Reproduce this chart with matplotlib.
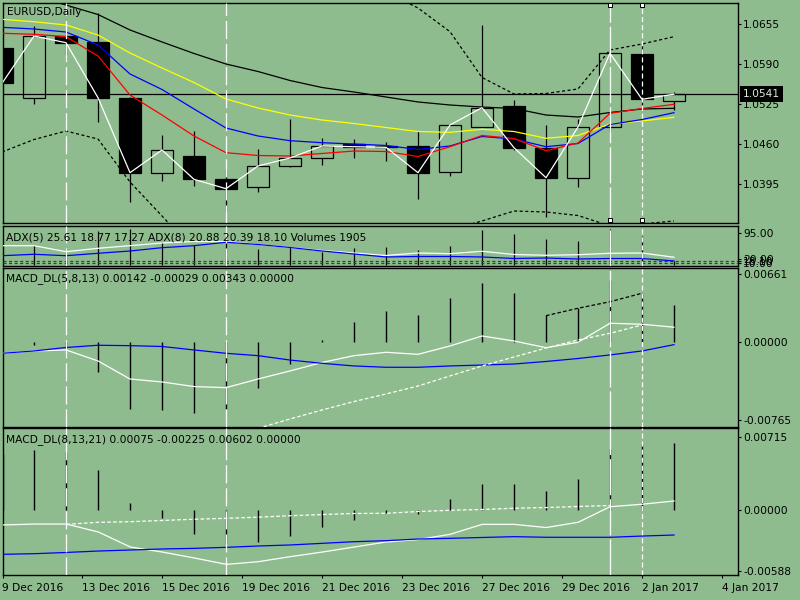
import numpy as np
import matplotlib
matplotlib.use('Agg')
import matplotlib.pyplot as plt
from matplotlib.patches import Rectangle
import matplotlib.transforms as mtransforms

plt.rcParams['font.family'] = ['DejaVu Sans']
plt.rcParams['lines.scale_dashes'] = False
plt.rcParams['font.size'] = 7.7

BG = '#8fbc8f'
DKGREEN = '#145a14'
W, H = 800, 600
PX_L, PX_R = 2.5, 738.0

# ---------------- data ----------------
bars = np.arange(22)
x_tick_pos = np.arange(10) * 2.5
x_labels = ['9 Dec 2016', '13 Dec 2016', '15 Dec 2016', '19 Dec 2016', '21 Dec 2016',
            '23 Dec 2016', '27 Dec 2016', '29 Dec 2016', '2 Jan 2017', '4 Jan 2017']

open_ = [1.06165, 1.05343, 1.06355, 1.06262, 1.05352, 1.04124, 1.04410, 1.04031, 1.03896, 1.04247, 1.04368,
         1.04605, 1.04572, 1.04568, 1.04150, 1.04881, 1.05218, 1.04540, 1.04052, 1.04881, 1.06063, 1.05299]
high = [1.06200, 1.06518, 1.06436, 1.06724, 1.05360, 1.04746, 1.04811, 1.04194, 1.04519, 1.05006, 1.04702,
        1.04681, 1.04637, 1.04811, 1.04910, 1.06534, 1.05315, 1.04909, 1.05006, 1.06080, 1.06236, 1.05450]
low = [1.05550, 1.05250, 1.06046, 1.04962, 1.03662, 1.03999, 1.03922, 1.03511, 1.03825, 1.04231, 1.04264,
       1.04377, 1.04329, 1.03706, 1.04085, 1.04870, 1.04503, 1.03409, 1.03896, 1.04800, 1.05234, 1.05153]
close = [1.05586, 1.06355, 1.06246, 1.05352, 1.04134, 1.04503, 1.04026, 1.03874, 1.04243, 1.04373, 1.04568,
         1.04556, 1.04546, 1.04134, 1.04909, 1.05190, 1.04540, 1.04052, 1.04876, 1.06074, 1.05326, 1.05410]
last_price = 1.0541

ma_black = [1.07135, 1.07005, 1.06859, 1.06704, 1.06453, 1.06258, 1.06071, 1.05900, 1.05778, 1.05632, 1.05518,
            1.05445, 1.05364, 1.05283, 1.05234, 1.05201, 1.05177, 1.05071, 1.05039, 1.05112, 1.05169, 1.05180]
ma_yellow = [1.06626, 1.06587, 1.06534, 1.06371, 1.06079, 1.05835, 1.05599, 1.05331, 1.05185, 1.05071, 1.04990,
             1.04933, 1.04868, 1.04803, 1.04790, 1.04839, 1.04803, 1.04693, 1.04738, 1.04925, 1.04974, 1.05034]
ma_blue = [1.06496, 1.06469, 1.06420, 1.06209, 1.05738, 1.05486, 1.05169, 1.04860, 1.04730, 1.04654, 1.04621,
           1.04600, 1.04576, 1.04511, 1.04568, 1.04722, 1.04681, 1.04556, 1.04608, 1.04917, 1.04998, 1.05109]
ma_red = [1.06399, 1.06383, 1.06344, 1.06030, 1.05396, 1.05071, 1.04730, 1.04459, 1.04413, 1.04405, 1.04446,
          1.04486, 1.04478, 1.04397, 1.04556, 1.04738, 1.04689, 1.04491, 1.04616, 1.05099, 1.05177, 1.05245]
band_up = [1.07428, 1.07460, 1.07509, 1.07590, 1.07671, 1.07720, 1.07753, 1.07753, 1.07720, 1.07623, 1.07460,
           1.07265, 1.07070, 1.06810, 1.06425, 1.05681, 1.05413, 1.05421, 1.05494, 1.06128, 1.06225, 1.06344]
band_dn = [1.04470, 1.04673, 1.04811, 1.04681, 1.03983, 1.03430, 1.02878, 1.02471, 1.02228, 1.02195, 1.02309,
           1.02553, 1.02796, 1.03008, 1.03203, 1.03349, 1.03511, 1.03495, 1.03438, 1.03268, 1.03300, 1.03349]
price_ticks = [1.0655, 1.0590, 1.0525, 1.0460, 1.0395]

adx5 = [58.3, 58.3, 41.3, 50.9, 58.3, 65.9, 70.1, 70.1, 61.7, 53.2, 44.7,
        37.7, 30.6, 37.7, 35.7, 42.5, 33.4, 31.2, 32.8, 36.8, 37.7, 25.6]
adx8 = [30.0, 34.0, 30.0, 36.8, 43.3, 52.6, 58.3, 67.9, 61.7, 53.2, 43.3,
        34.8, 26.4, 27.8, 27.8, 26.4, 22.1, 23.5, 20.7, 22.1, 22.1, 15.1]
volumes = [9000, 9670, 8000, 16330, 17380, 11190, 9670, 11430, 7900, 8710, 6330,
           8380, 8710, 7140, 9190, 16670, 14760, 12670, 11430, 17430, 13950, 1905]
adx_levels = [14.2, 8.55]
adx_ticks = [95, 20, 16, 10]
adx_tick_labels = ['95.00', '20.00', '18.10', '10.00']

nan = np.nan
hist1 = [0.0001, -0.0003, -0.00065, -0.00294, -0.00657, -0.0067, -0.00702, -0.0066, -0.00451, -0.00219, 0.0002,
         0.00196, 0.00301, 0.00262, 0.00432, 0.00573, 0.00475, 0.00262, 0.00328, 0.00605, 0.00475, 0.0036]
macd1_main = [-0.00114, -0.00091, -0.00081, -0.00189, -0.00366, -0.00395, -0.0044, -0.00451, -0.00366, -0.00287,
              -0.00204, -0.00137, -0.00104, -0.00124, -0.00042, 0.00056, 0.00007, -0.00059, -0.00006, 0.00181,
              0.00171, 0.00142]
macd1_blue = [-0.00114, -0.00091, -0.00057, -0.00035, -0.00039, -0.00047, -0.00081, -0.00114, -0.00137, -0.0018,
              -0.00212, -0.00238, -0.00251, -0.00251, -0.00238, -0.00229, -0.00219, -0.00194, -0.00165, -0.0013,
              -0.00091, -0.00029]
macd1_sig = [nan] * 8 + [-0.0085, -0.00758, -0.0067, -0.00587, -0.00513, -0.00435, -0.00336, -0.00238, -0.0015,
                         -0.00062, 0.00017, 0.00082, 0.00164] + [nan]
macd1_div = [nan] * 17 + [0.00255, 0.00328, 0.00392, 0.00475] + [nan]
macd1_ticks = [0.00661, 0.0, -0.00765]

hist2 = [0.0055, 0.00585, 0.00569, 0.00393, 0.00074, -0.00072, -0.00231, -0.00332, -0.00306, -0.00248, -0.0016,
         -0.00095, -0.0003, -0.00036, 0.0011, 0.00253, 0.00253, 0.00188, 0.00305, 0.00598, 0.00644, 0.0066]
macd2_main = [-0.00143, -0.00134, -0.00134, -0.00212, -0.00358, -0.00407, -0.00465, -0.00527, -0.00501, -0.00452,
              -0.00407, -0.00358, -0.00309, -0.00285, -0.00234, -0.00137, -0.00137, -0.00168, -0.00117, 0.00035,
              0.00059, 0.00091]
macd2_blue = [-0.00429, -0.00423, -0.00411, -0.00397, -0.00387, -0.00377, -0.00371, -0.00361, -0.00348, -0.00338,
              -0.00322, -0.00306, -0.00296, -0.0028, -0.00273, -0.00265, -0.00257, -0.00263, -0.00263, -0.00263,
              -0.00251, -0.00241]
macd2_sig = [nan] * 2 + [-0.00137, -0.00117, -0.00111, -0.00099, -0.00087, -0.00078, -0.00067, -0.00053, -0.00041,
                         -0.00031, -0.00029, -0.00012, 0.0, 0.00008, 0.0002, 0.00027, 0.00037, 0.00047] + [nan] * 2
macd2_ticks = [0.00715, 0.0, -0.00588]

vlines_long = [2, 7]
vline_xlong = 19
vline_short = 20

# ---------------- layout ----------------
LW = 0.9
LONG = (0, (13, 3.6))
XLONG = (0, (26, 2.9))
SHORTV = (0, (3.6, 2.2))
BAND = (0, (2.2, 1.8))
FINE = (0, (2.6, 1.6))

fig = plt.figure(figsize=(8, 6), dpi=100, facecolor=BG)


def right_ticks(ax):
    ax.yaxis.set_ticks_position('right')
    ax.yaxis.set_label_position('right')
    ax.tick_params(axis='y', which='both', left=False, labelleft=False, right=True, labelright=True,
                   direction='out', length=2.2, width=0.8, pad=1.5, labelsize=7.7, colors='black')


def panel(top, bottom):
    ax = fig.add_axes([PX_L / W, 1 - bottom / H, (PX_R - PX_L) / W, (bottom - top) / H])
    ax.set_facecolor(BG)
    ax.set_xlim((PX_L - 2) / 32.0, (PX_R - 2) / 32.0)
    for s in ax.spines.values():
        s.set_color('black')
        s.set_linewidth(1.0)
    right_ticks(ax)
    ax.tick_params(axis='x', bottom=False, labelbottom=False, top=False)
    return ax


def vert_lines(ax):
    for v in vlines_long:
        ax.axvline(v, color='white', lw=LW, linestyle=LONG, zorder=5)
    ax.axvline(vline_xlong, color='white', lw=LW, linestyle=XLONG, zorder=5)
    ax.axvline(vline_short, color='white', lw=LW, linestyle=SHORTV, zorder=5)


# ---- main price panel ----
ax = panel(3, 223)
ax.set_ylim(1.033163, 1.068913)
ax.set_yticks(price_ticks)
ax.set_yticklabels(['%.4f' % t for t in price_ticks])

for i, (o, h, l, c) in enumerate(zip(open_, high, low, close)):
    ax.vlines(i, l, h, color='black', lw=LW, zorder=2)
    b = min(o, c)
    hh = max(abs(c - o), 0.00003)
    fc = 'black' if c < o else BG
    ax.add_patch(Rectangle((i - 0.34375, b), 0.6875, hh, fc=fc, ec='black', lw=LW, zorder=3))

ax.axhline(last_price, color='black', lw=LW, zorder=3.5)
ax.plot(bars, ma_black, color='black', lw=LW, zorder=4)
ax.plot(bars, ma_yellow, color='#ffff00', lw=LW, zorder=4)
ax.plot(bars, ma_blue, color='#0000ff', lw=LW, zorder=4)
ax.plot(bars, ma_red, color='#ff0000', lw=LW, zorder=4)
ax.plot(bars, close, color='white', lw=LW, zorder=4.5)
ax.plot(bars, band_up, color='black', lw=LW, linestyle=BAND, zorder=4)
ax.plot(bars, band_dn, color='black', lw=LW, linestyle=BAND, zorder=4)
vert_lines(ax)

bt = mtransforms.blended_transform_factory(ax.transData, ax.transAxes)
for yy in (0.9896, 0.0136):
    ax.plot([vline_xlong, vline_short], [yy, yy], transform=bt, marker='s', ms=3.2,
            mfc='white', mec='black', mew=0.7, ls='none', clip_on=False, zorder=11)

bt2 = mtransforms.blended_transform_factory(ax.transAxes, ax.transData)
ax.text(1.0068, last_price, '%.4f' % last_price, transform=bt2, ha='left', va='center',
        color='#d8ecd8', fontsize=7.7, zorder=12, clip_on=False,
        bbox=dict(boxstyle='square,pad=0.25', fc='black', ec='none'))

fig.text(7 / W, 1 - 11.7 / H, 'EURUSD,Daily', ha='left', va='center', fontsize=7.7, color='black')

# ---- ADX / Volumes panel ----
axa = panel(226, 266)
axv = axa.twinx()
axv.set_ylim(-333, 18714)
axv.set_yticks([])
axv.tick_params(axis='y', left=False, right=False, labelleft=False, labelright=False)
for s in axv.spines.values():
    s.set_visible(False)
axv.vlines(bars, 0, volumes, color='black', lw=LW)
axv.set_zorder(0)
axa.set_zorder(1)
axa.patch.set_visible(False)
axa.set_ylim(0.9, 113.9)
axa.set_yticks(adx_ticks)
axa.set_yticklabels(adx_tick_labels)
right_ticks(axa)
for lv in adx_levels:
    axa.axhline(lv, color=DKGREEN, lw=LW, linestyle=BAND, zorder=3)
axa.plot(bars, adx5, color='white', lw=LW, zorder=4)
axa.plot(bars, adx8, color='#0000ff', lw=LW, zorder=4)
vert_lines(axa)
fig.text(6 / W, 1 - 237 / H, 'ADX(5) 25.61 18.77 17.27 ADX(8) 20.88 20.39 18.10 Volumes 1905',
         ha='left', va='center', fontsize=7.7, color='black', zorder=20)

# ---- MACD (5,8,13) ----
axm = panel(267.7, 427)
axm.set_ylim(-0.008368, 0.007257)
axm.set_yticks(macd1_ticks)
axm.set_yticklabels(['%.5f' % t for t in macd1_ticks])
axm.vlines(bars, 0, hist1, color='black', lw=1.0, zorder=3)
axm.plot(bars, macd1_main, color='white', lw=LW, zorder=4)
axm.plot(bars, macd1_blue, color='#0000ff', lw=LW, zorder=4)
axm.plot(bars, macd1_sig, color='white', lw=LW, linestyle=FINE, zorder=4)
axm.plot(bars, macd1_div, color='black', lw=LW, linestyle=FINE, zorder=4)
vert_lines(axm)
fig.text(6 / W, 1 - 279 / H, 'MACD_DL(5,8,13) 0.00142 -0.00029 0.00343 0.00000',
         ha='left', va='center', fontsize=7.7, color='black', zorder=20)

# ---- MACD (8,13,21) ----
axn = panel(428.3, 575)
axn.set_ylim(-0.006308, 0.007995)
axn.set_yticks(macd2_ticks)
axn.set_yticklabels(['%.5f' % t for t in macd2_ticks])
axn.vlines(bars, 0, hist2, color='black', lw=1.0, zorder=3)
axn.plot(bars, macd2_main, color='white', lw=LW, zorder=4)
axn.plot(bars, macd2_blue, color='#0000ff', lw=LW, zorder=4)
axn.plot(bars, macd2_sig, color='white', lw=LW, linestyle=FINE, zorder=4)
vert_lines(axn)
fig.text(6 / W, 1 - 440 / H, 'MACD_DL(8,13,21) 0.00075 -0.00225 0.00602 0.00000',
         ha='left', va='center', fontsize=7.7, color='black', zorder=20)

axn.set_xticks(x_tick_pos)
axn.set_xticklabels(x_labels)
axn.tick_params(axis='x', bottom=True, labelbottom=True, direction='out', length=2.5,
                width=0.8, pad=3, labelsize=7.7, colors='black')
for lbl in axn.get_xticklabels():
    lbl.set_ha('left')

fig.savefig('out.png', dpi=100, facecolor=BG)
